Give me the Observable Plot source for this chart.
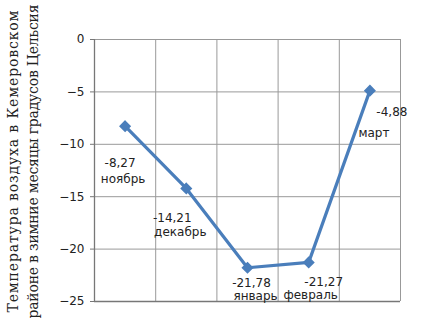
<!DOCTYPE html>
<html><head><meta charset="utf-8">
<script src="https://cdn.jsdelivr.net/npm/d3@7"></script>
<script src="https://cdn.jsdelivr.net/npm/@observablehq/plot@0.6"></script>
<style>body{margin:0;background:#fff}</style>
</head><body><div id="chart"></div>
<script>
const months = ["ноябрь", "декабрь", "январь", "февраль", "март"];
const temps = [-8.27, -14.21, -21.78, -21.27, -4.88];
const yTicks = [0, -5, -10, -15, -20, -25];
const yTitleLines = ["Температура воздуха в Кемеровском", "районе в зимние месяцы градусов Цельсия"];

const data = months.map((m, i) => ({x: i + 1, month: m, t: temps[i], value: String(temps[i]).replace(".", ",")}));
const xBounds = d3.range(0.5, months.length + 1, 1);

// label placement (screen offsets): [value dx, value dy, month dx, month dy]
const offsets = [[-5, 37, -2, 53], [-14, 30, -6, 44], [4, 15, 8, 28], [15, 20, 2, 33], [22, 22, 4, 43]];
const labelMarks = data.flatMap((d, i) => [
  Plot.text([d], {x: "x", y: "t", text: "value", dx: offsets[i][0], dy: offsets[i][1], fill: "#222"}),
  Plot.text([d], {x: "x", y: "t", text: "month", dx: offsets[i][2], dy: offsets[i][3], fill: "#222"})
]);

const chart = Plot.plot({
  width: 424, height: 323,
  marginLeft: 94, marginRight: 24, marginTop: 39, marginBottom: 22,
  style: {fontFamily: "DejaVu Sans", fontSize: "12px", color: "#222", background: "#fff"},
  x: {domain: [0.5, months.length + 0.5], axis: null},
  y: {domain: [-25, 0]},
  marks: [
    Plot.ruleX(xBounds, {stroke: "#999", strokeWidth: 1}),
    Plot.ruleY(yTicks, {stroke: "#999", strokeWidth: 1}),
    Plot.ruleX([0.5], {stroke: "#777", strokeWidth: 1.3}),
    Plot.ruleY([-25], {stroke: "#777", strokeWidth: 1.3}),
    Plot.axisY(yTicks, {tickSize: 4, tickPadding: 6, label: null, stroke: "#777", fill: "#222", fontSize: 12}),
    Plot.line(data, {x: "x", y: "t", stroke: "#4a7ebb", strokeWidth: 3.2}),
    Plot.dot(data, {x: "x", y: "t", symbol: "diamond2", r: 4.5, fill: "#4a7ebb", stroke: "#4a7ebb"}),
    ...labelMarks,
    Plot.text([yTitleLines.join("\n")], {frameAnchor: "left", rotate: -90, dx: -73, dy: -9, lineHeight: 1.45,
      fontFamily: "DejaVu Serif", fontSize: 14, fill: "#222", textAnchor: "middle", className: "ytitle"})
  ]
});
// stretch the title lines to the reference's spacing
const lens = [302, 314];
d3.select(chart).selectAll(".ytitle tspan").each(function(_, i) {
  this.setAttribute("textLength", lens[i]);
  this.setAttribute("lengthAdjust", "spacing");
});
document.getElementById("chart").append(chart);
</script>
</body></html>
